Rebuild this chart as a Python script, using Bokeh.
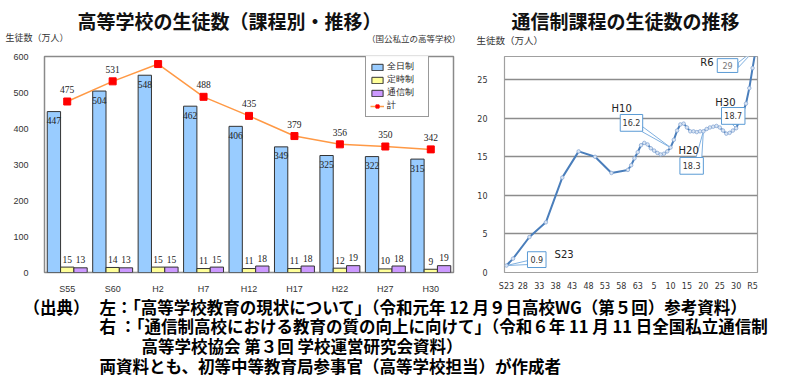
from bokeh.plotting import figure
from bokeh.models import (ColumnDataSource, Label, LabelSet, Legend, LegendItem,
                          FixedTicker, Range1d)
from bokeh.transform import dodge
from bokeh.layouts import column, row
from bokeh.embed import file_html
from bokeh.resources import INLINE
from bokeh.core.properties import value

# ---------------- data: left chart ----------------
categories = ["S55", "S60", "H2", "H7", "H12", "H17", "H22", "H27", "H30"]
zennichi = [447, 504, 548, 462, 406, 349, 325, 322, 315]   # 全日制
teiji = [15, 14, 15, 11, 11, 11, 12, 10, 9]                 # 定時制
tsushin = [13, 13, 15, 15, 18, 18, 19, 18, 19]              # 通信制
total = [475, 531, 579, 488, 435, 379, 356, 350, 342]       # 計
left_yticks = [0, 100, 200, 300, 400, 500, 600]

# ---------------- data: right chart ----------------
years = [1948, 1950, 1955, 1960, 1965, 1970, 1975, 1980, 1985, 1986, 1987, 1988,
         1989, 1990, 1991, 1992, 1993, 1994, 1995, 1996, 1997, 1998, 1999, 2000,
         2001, 2002, 2003, 2004, 2005, 2006, 2007, 2008, 2009, 2010, 2011, 2012,
         2013, 2014, 2015, 2016, 2017, 2018, 2019, 2020, 2021, 2022, 2023, 2024]
students = [0.9, 1.8, 4.6, 6.5, 12.3, 15.7, 15.0, 12.9, 13.3, 13.9, 14.8, 15.6,
            16.5, 16.8, 16.6, 16.1, 15.8, 15.5, 15.3, 15.4, 15.7, 16.2, 17.2, 18.4,
            19.2, 19.3, 18.8, 18.3, 18.3, 18.2, 18.3, 18.3, 18.6, 18.8, 18.9, 19.0,
            18.8, 18.4, 18.0, 18.1, 18.4, 18.7, 19.7, 20.7, 21.9, 23.9, 26.5, 29.0]
tick_years = [1948, 1953, 1958, 1963, 1968, 1973, 1978, 1983, 1988, 1993, 1998,
              2003, 2008, 2013, 2018, 2023]
tick_labels = ["S23", "28", "33", "38", "43", "48", "53", "58", "63", "5", "10",
               "15", "20", "25", "30", "R5"]
right_yticks = [0, 5, 10, 15, 20, 25]
call_years = [1948, 1998, 2008, 2018, 2024]
call_vals = [0.9, 16.2, 18.3, 18.7, 29]
call_texts = ["0.9", "16.2", "18.3", "18.7", "29"]
era_texts = ["S23", "H10", "H20", "H30", "R6"]

# ---------------- text ----------------
left_title = "高等学校の生徒数（課程別・推移）"
right_title = "通信制課程の生徒数の推移"
unit_text = "生徒数（万人）"
scope_text = "（国公私立の高等学校）"
legend_names = ["全日制", "定時制", "通信制", "計"]
source_head = "（出典）"
source_lines = [
    "左：「高等学校教育の現状について」（令和元年 12 月９日高校WG（第５回）参考資料）",
    "右 ：「通信制高校における教育の質の向上に向けて」（令和６年 11 月 11 日全国私立通信制",
    "高等学校協会 第３回 学校運営研究会資料）",
    "両資料とも、初等中等教育局参事官（高等学校担当）が作成者",
]

JP = "Noto Sans CJK JP"
NUM = "'Liberation Sans Narrow', 'Liberation Sans', sans-serif"
VER = "DejaVu Sans"


def blank_fig(w, h):
    f = figure(width=w, height=h, x_range=Range1d(0, 1), y_range=Range1d(0, 1),
               output_backend="svg", toolbar_location=None, min_border=0,
               x_axis_type=None, y_axis_type=None)
    f.outline_line_color = None
    f.background_fill_color = "white"
    f.border_fill_color = "white"
    f.grid.visible = False
    return f


def slabel(f, x, y, text, size, bold=False, color="#111111", align="left"):
    f.add_layout(Label(x=x, y=y, x_units="screen", y_units="screen", text=text,
                       text_font=JP, text_font_size=size,
                       text_font_style="bold" if bold else "normal",
                       text_color=color, text_baseline="middle", text_align=align))


# =============== TITLE STRIP ===============
TH = 48
top = blank_fig(785, TH)
slabel(top, 77, TH - 20, left_title, "19px", bold=True)
slabel(top, 5, TH - 37, unit_text, "9px", color="#333333")
slabel(top, 460, TH - 37, scope_text, "8.5px", color="#333333", align="right")
slabel(top, 511, TH - 19.5, right_title, "19px", bold=True)
slabel(top, 476, TH - 39, unit_text, "9.5px", color="#333333")

# =============== LEFT FIGURE ===============
CH = 248
left = figure(x_range=categories, y_range=Range1d(0, 600), width=474, height=CH,
              output_backend="svg", toolbar_location=None,
              min_border_left=44, min_border_right=21, min_border_top=7,
              min_border_bottom=20)
left.background_fill_color = "white"
left.border_fill_color = "white"
left.outline_line_color = "#8a8a8a"
left.outline_line_width = 1.5
left.xgrid.visible = False
left.ygrid.visible = False
for ax in (left.xaxis, left.yaxis):
    ax.axis_line_color = None
    ax.major_tick_line_color = None
    ax.minor_tick_line_color = None
    ax.major_label_text_font = NUM
    ax.major_label_text_font_size = "9px"
    ax.major_label_text_color = "#333333"
left.yaxis.ticker = FixedTicker(ticks=left_yticks)
left.yaxis.major_label_standoff = 10
left.xaxis.major_label_standoff = 5

src = ColumnDataSource(dict(
    cat=categories, zen=zennichi, tei=teiji, tsu=tsushin, tot=total,
    zen_s=[str(v) for v in zennichi], tei_s=[str(v) for v in teiji],
    tsu_s=[str(v) for v in tsushin], tot_s=[str(v) for v in total]))

bw = 0.293
r_zen = left.vbar(x=dodge("cat", -bw, range=left.x_range), top="zen", width=bw,
                  source=src, fill_color="#99ccff", line_color="#333333", line_width=1)
r_tei = left.vbar(x=dodge("cat", 0, range=left.x_range), top="tei", width=bw,
                  source=src, fill_color="#ffff99", line_color="#333333", line_width=1)
r_tsu = left.vbar(x=dodge("cat", bw, range=left.x_range), top="tsu", width=bw,
                  source=src, fill_color="#cc99ff", line_color="#333333", line_width=1)
r_line = left.line(x="cat", y="tot", source=src, line_color="#ff9945", line_width=1.5)
r_pts = left.scatter(x="cat", y="tot", source=src, marker="square", size=7,
                     fill_color="#ff0000", line_color="#ff0000")


def labelset(xexpr, ycol, tcol, yoff):
    return LabelSet(x=xexpr, y=ycol, text=tcol, source=src, y_offset=yoff,
                    text_align="center", text_baseline="middle",
                    text_font=NUM, text_font_size="9.5px", text_color="#222222")


left.add_layout(labelset(dodge("cat", -bw, range=left.x_range), "zen", "zen_s", -9))
left.add_layout(labelset(dodge("cat", 0, range=left.x_range), "tei", "tei_s", 8))
left.add_layout(labelset(dodge("cat", bw, range=left.x_range), "tsu", "tsu_s", 8))
left.add_layout(labelset("cat", "tot", "tot_s", 12))

legend = Legend(items=[
    LegendItem(label=legend_names[0], renderers=[r_zen]),
    LegendItem(label=legend_names[1], renderers=[r_tei]),
    LegendItem(label=legend_names[2], renderers=[r_tsu]),
    LegendItem(label=legend_names[3], renderers=[r_line, r_pts]),
], location=(321, 155))
legend.label_text_font = "DejaVu Sans"
legend.label_text_font_size = "9px"
legend.label_text_color = "#222222"
legend.label_height = 8
legend.label_width = 37
legend.label_standoff = 3
legend.glyph_width = 14
legend.glyph_height = 8
legend.spacing = 0
legend.padding = 4
legend.margin = 0
legend.border_line_color = "#333333"
legend.border_line_width = 1
left.add_layout(legend, "center")

# =============== RIGHT FIGURE ===============
x0, x1, y0, y1 = 1947.4, 2024.5, 0, 28
rw, rh = 311, CH
mbl, mbr, mbt, mbb = 24, 28, 8, 21
right = figure(x_range=Range1d(x0, x1), y_range=Range1d(y0, y1), width=rw, height=rh,
               output_backend="svg", toolbar_location=None,
               min_border_left=mbl, min_border_right=mbr, min_border_top=mbt,
               min_border_bottom=mbb)
right.background_fill_color = "white"
right.border_fill_color = "white"
right.outline_line_color = "#a0a0a0"
right.outline_line_width = 1.2
right.xgrid.visible = False
right.ygrid.ticker = FixedTicker(ticks=right_yticks)
right.ygrid.grid_line_color = "#8c8c8c"
right.ygrid.grid_line_width = 1.5
for ax in (right.xaxis, right.yaxis):
    ax.axis_line_color = None
    ax.major_tick_line_color = None
    ax.minor_tick_line_color = None
    ax.major_label_text_font = VER
    ax.major_label_text_font_size = "8px"
    ax.major_label_text_color = "#333333"
right.yaxis.ticker = FixedTicker(ticks=right_yticks)
right.yaxis.major_label_standoff = 11
right.xaxis.ticker = FixedTicker(ticks=tick_years)
right.xaxis.major_label_overrides = {y: t for y, t in zip(tick_years, tick_labels)}
right.xaxis.major_label_standoff = 3

kx = (rw - mbl - mbr) / (x1 - x0)   # px per year
ky = (rh - mbt - mbb) / (y1 - y0)   # px per unit

# callout pointers (wedges) drawn first
wedge_base = [((21.7, 5.0), (21.7, 1.0)), ((-29, 21.4), (-29, 16.0)),
              ((-7.6, -26.8), (-1.6, -26.8)), ((-4, 4), (2, 4)),
              ((-18, -14), (-18, -19))]
wx, wy = [], []
for yr, v, (a, b) in zip(call_years, call_vals, wedge_base):
    wx.append([yr, yr + a[0] / kx, yr + b[0] / kx])
    wy.append([v, v + a[1] / ky, v + b[1] / ky])
right.patches(xs=wx, ys=wy, fill_color="white", line_color="#7fb0e0", line_width=1)

right.line(years, students, line_color="#4a7ebb", line_width=2)
right.scatter(years, students, size=3.5, fill_color="#dbe6f4", line_color="#8aaad6",
              line_width=0.8)

# callout boxes: centre offsets and sizes in pixels, anchored at the data points
box_off = [(31, 6), (-40, 25), (-12, -35), (-3, 12.5), (-29, -17)]
box_size = [(19, 16), (23, 17), (24, 17), (24, 17), (21, 14)]
era_off = [(59, 11), (-50, 40), (-15, -19), (-11, 26), (-50, -14)]
bx = [yr + o[0] / kx for yr, o in zip(call_years, box_off)]
by = [v + o[1] / ky for v, o in zip(call_vals, box_off)]
box_src = ColumnDataSource(dict(
    x=bx, y=by, w=[s[0] / kx for s in box_size], h=[s[1] / ky for s in box_size],
    t=call_texts, c=["#333333"] * 4 + ["#777777"]))
right.rect(x="x", y="y", width="w", height="h", source=box_src,
           fill_color="white", line_color="#5b9bd5", line_width=1)
right.text(x="x", y="y", text="t", source=box_src, text_color="c",
           text_font=value(VER), text_font_size="8px",
           text_align="center", text_baseline="middle")
era_src = ColumnDataSource(dict(
    x=[yr + o[0] / kx for yr, o in zip(call_years, era_off)],
    y=[v + o[1] / ky for v, o in zip(call_vals, era_off)], t=era_texts))
right.text(x="x", y="y", text="t", source=era_src, text_color="#222222",
           text_font=value(VER), text_font_size="10px",
           text_align="center", text_baseline="middle")

# =============== BOTTOM (source notes) ===============
BY0 = TH + CH
BH = 387 - BY0
bottom = blank_fig(785, BH)
line_y = [306, 325, 345, 365]
line_x = [99, 99, 141, 99]
slabel(bottom, 23, BH - (line_y[0] - BY0), source_head, "16.5px", bold=True, color="black")
for t, xx, yy in zip(source_lines, line_x, line_y):
    slabel(bottom, xx, BH - (yy - BY0), t, "16.5px", bold=True, color="black")

layout = column(top, row(left, right), bottom)
open("out.html", "w").write(file_html(layout, INLINE))
